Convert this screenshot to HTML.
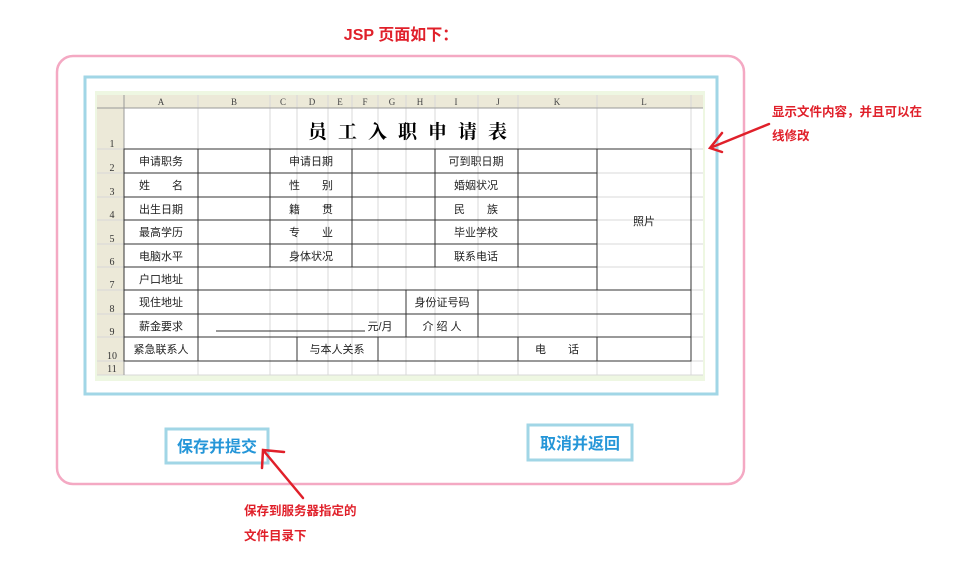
<!DOCTYPE html>
<html><head><meta charset="utf-8"><style>
html,body{margin:0;padding:0;background:#fff;width:955px;height:571px;overflow:hidden}
svg{display:block}
text{font-family:"Liberation Sans","Noto Sans CJK SC",sans-serif}
.c{font-size:11px;fill:#222;text-anchor:middle}
.h{font-size:9px;fill:#444;text-anchor:middle;font-family:"Liberation Serif",serif}
.r{font-size:10px;fill:#333;text-anchor:middle;font-family:"Liberation Serif",serif}
.red{font-size:12.5px;fill:#e0202a;font-weight:bold}
.btn{font-size:16px;fill:#2596d8;font-weight:bold;text-anchor:middle}
</style></head><body>
<svg width="955" height="571" viewBox="0 0 955 571" xmlns="http://www.w3.org/2000/svg">
<text x="401" y="40" class="red" style="font-size:16px" text-anchor="middle">JSP 页面如下：</text>
<rect x="57" y="56" width="687" height="428" rx="16" fill="none" stroke="#f4a9c3" stroke-width="2.5"/>
<rect x="85" y="77" width="632" height="317" fill="none" stroke="#a1d6e6" stroke-width="3"/>
<rect x="95" y="91" width="610" height="290" fill="#eef7e2"/>
<rect x="97" y="95" width="606" height="280" fill="#fff"/>
<rect x="97" y="95" width="606" height="13" fill="#ece9d8"/>
<rect x="97" y="95" width="27" height="280" fill="#ece9d8"/>
<g stroke="#d8d8d8" stroke-width="1">
<path d="M124 95V375M198 95V375M270 95V375M297 95V375M328 95V375M352 95V375M378 95V375M406 95V375M435 95V375M478 95V375M518 95V375M597 95V375M691 95V375"/>
<path d="M97 108H703M97 149H703M97 173H703M97 197H703M97 220H703M97 244H703M97 267H703M97 290H703M97 314H703M97 337H703M97 361H703M97 375H703"/>
</g>
<g stroke="#999" stroke-width="1">
<path d="M124 95V375M97 108H703"/>
</g>
<g>
<text class="h" x="161" y="105">A</text><text class="h" x="234" y="105">B</text><text class="h" x="283" y="105">C</text><text class="h" x="312" y="105">D</text><text class="h" x="340" y="105">E</text><text class="h" x="365" y="105">F</text><text class="h" x="392" y="105">G</text><text class="h" x="420" y="105">H</text><text class="h" x="456" y="105">I</text><text class="h" x="498" y="105">J</text><text class="h" x="557" y="105">K</text><text class="h" x="644" y="105">L</text>
</g>
<g>
<text class="r" x="112" y="147">1</text><text class="r" x="112" y="171">2</text><text class="r" x="112" y="195">3</text><text class="r" x="112" y="218">4</text><text class="r" x="112" y="242">5</text><text class="r" x="112" y="265">6</text><text class="r" x="112" y="288">7</text><text class="r" x="112" y="312">8</text><text class="r" x="112" y="335">9</text><text class="r" x="112" y="359">10</text><text class="r" x="112" y="372">11</text>
</g>
<text x="413" y="138" text-anchor="middle" style="font-size:19px;font-weight:bold;letter-spacing:11px;font-family:'Noto Serif CJK SC','Noto Sans CJK SC',serif">员工入职申请表</text>
<g stroke="#333" stroke-width="1" fill="none">
<rect x="124" y="149" width="567" height="212"/>
<path d="M124 173H597M124 197H597M124 220H597M124 244H597M124 267H597M124 290H691M124 314H691M124 337H691"/>
<path d="M198 149V361M270 149V267M352 149V267M435 149V267M518 149V267M597 149V290M406 290V337M478 290V337M297 337V361M378 337V361M518 337V361M597 337V361"/>
<path d="M216 331H365"/>
</g>
<g>
<text class="c" x="161" y="165">申请职务</text><text class="c" x="311" y="165">申请日期</text><text class="c" x="476" y="165">可到职日期</text>
<text class="c" x="161" y="189">姓　　名</text><text class="c" x="311" y="189">性　　别</text><text class="c" x="476" y="189">婚姻状况</text>
<text class="c" x="161" y="213">出生日期</text><text class="c" x="311" y="213">籍　　贯</text><text class="c" x="476" y="213">民　　族</text>
<text class="c" x="161" y="236">最高学历</text><text class="c" x="311" y="236">专　　业</text><text class="c" x="476" y="236">毕业学校</text>
<text class="c" x="161" y="260">电脑水平</text><text class="c" x="311" y="260">身体状况</text><text class="c" x="476" y="260">联系电话</text>
<text class="c" x="161" y="283">户口地址</text><text class="c" x="644" y="225">照片</text>
<text class="c" x="161" y="306">现住地址</text><text class="c" x="442" y="306">身份证号码</text>
<text class="c" x="161" y="330">薪金要求</text><text class="c" x="380" y="330">元/月</text><text class="c" x="442" y="330">介 绍 人</text>
<text class="c" x="161" y="353">紧急联系人</text><text class="c" x="337" y="353">与本人关系</text><text class="c" x="557" y="353">电　　话</text>
</g>
<rect x="166" y="429" width="102" height="34" fill="#fff" stroke="#a1d6e6" stroke-width="3"/>
<text class="btn" x="217" y="452">保存并提交</text>
<rect x="528" y="425" width="104" height="35" fill="#fff" stroke="#a1d6e6" stroke-width="3"/>
<text class="btn" x="580" y="449">取消并返回</text>
<g stroke="#e0202a" stroke-width="2.5" fill="none" stroke-linecap="round">
<path d="M769 124L710 148M722 133L710 148L722 152"/>
<path d="M303 498L263 450M284 452L263 450L262 468"/>
</g>
<text class="red" x="772" y="116">显示文件内容，并且可以在</text>
<text class="red" x="772" y="140">线修改</text>
<text class="red" x="244" y="515">保存到服务器指定的</text>
<text class="red" x="244" y="540">文件目录下</text>
</svg>
</body></html>
